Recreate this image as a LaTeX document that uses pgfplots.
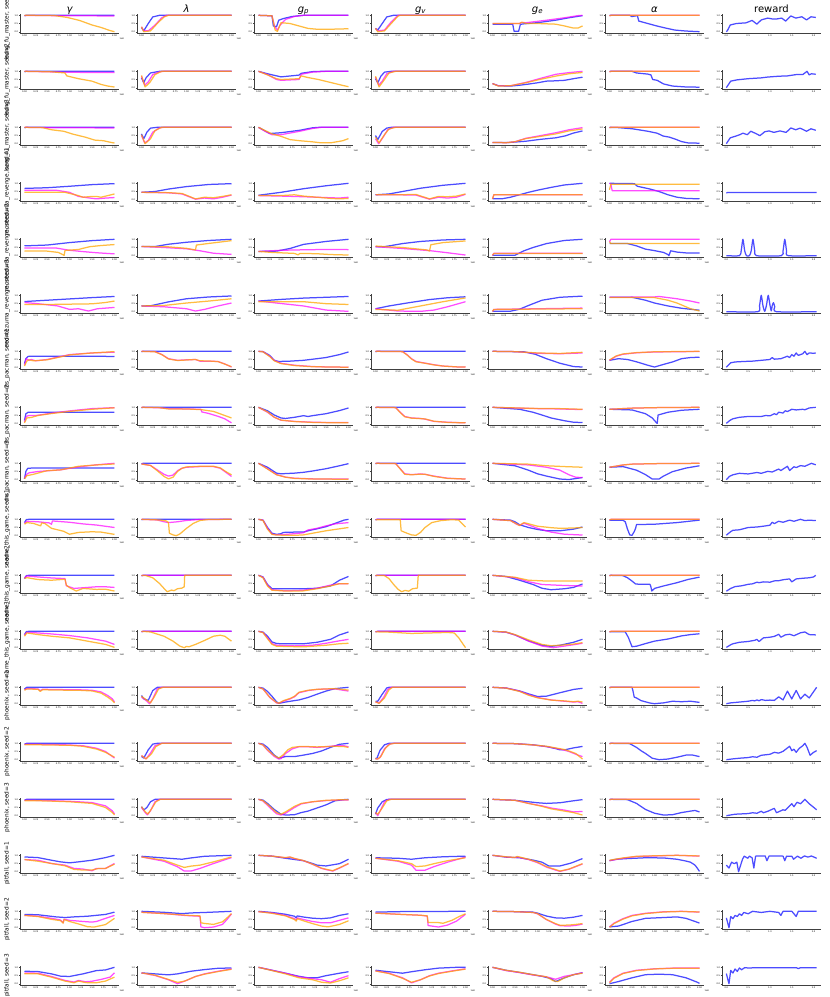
\documentclass[border=0pt]{standalone}
\usepackage{fontspec}
\setmainfont{DejaVu Sans}
\usepackage{pgfplots}
\pgfplotsset{compat=1.18}
\usepgfplotslibrary{groupplots}
\definecolor{cB}{RGB}{0,0,255}
\definecolor{cM}{RGB}{255,0,255}
\definecolor{cO}{RGB}{255,165,0}
\newcommand\BL[1]{\addplot[cB,opacity=0.7] coordinates {#1};}
\newcommand\ML[1]{\addplot[cM,opacity=0.7] coordinates {#1};}
\newcommand\OL[1]{\addplot[cO,opacity=0.75] coordinates {#1};}
\newcommand\RL[1]{\addplot[cB,opacity=0.7] coordinates {#1};}
\newcommand\RS[1]{\addplot[cB,opacity=0.7,smooth,tension=0.4] coordinates {#1};}
\pgfplotsset{
  every axis title/.style={at={(0.5,1)}, anchor=base, yshift=2pt, inner sep=0pt, font=\fontsize{10}{11}\selectfont},
  base/.style={scale only axis, width=99pt, height=19pt, ymin=-0.08, ymax=1.08,
    axis x line*=bottom, axis y line*=left,
    axis line style={black!75, line width=0.3pt},
    tick style={black!75, line width=0.3pt}, major tick length=1.2pt, tick align=outside,
    ticklabel style={font=\fontsize{2.2}{2.5}\selectfont, inner sep=0.6pt},
    /pgf/number format/assume math mode=true,
    ytick={0,0.5,1}, yticklabel style={/pgf/number format/.cd, fixed, fixed zerofill, precision=1},
    every axis plot/.append style={line width=1.25pt, line join=round},
    ylabel style={font=\fontsize{5.8}{6}\selectfont, at={(axis description cs:-0.13,0.5)}, anchor=center},
  },
  H/.style={base, xmin=-0.1, xmax=2.1, xtick={0,0.25,0.5,0.75,1,1.25,1.5,1.75,2},
    xticklabel style={/pgf/number format/.cd, fixed, fixed zerofill, precision=2},
    after end axis/.code={\node[font=\fontsize{2.2}{2.5}\selectfont, anchor=north west, inner sep=0pt] at ([xshift=0.5pt,yshift=-4.5pt]rel axis cs:1,0) {1e8};}},
  R/.style={base, xmin=-0.1, xmax=2.17, xtick={0,0.5,1,1.5,2},
    xticklabel style={/pgf/number format/.cd, fixed, fixed zerofill, precision=1}},
}
\begin{document}
\begin{tikzpicture}
\begin{groupplot}[group style={group size=7 by 18, horizontal sep=18pt, vertical sep=37pt, group name=G}]
% ===== Row 1
\nextgroupplot[H,title={\itshape γ},ylabel={kung\_fu\_master, seed=1}]
\BL{(0,0.97)(0.04,1)(2,1)}
\ML{(0,0.99)(1,0.975)(2,0.96)}
\OL{(0,1)(0.65,0.99)(0.95,0.87)(1.22,0.69)(1.5,0.41)(1.7,0.26)(1.9,0.07)(2,0)}
\nextgroupplot[H,title={\itshape λ}]
\BL{(0,0.25)(0.05,0.05)(0.15,0.5)(0.25,0.9)(0.4,1)(2,1)}
\ML{(0,0.3)(0.05,0.05)(0.15,0.05)(0.3,0.4)(0.45,0.85)(0.55,1)(2,1)}
\OL{(0,0.3)(0.05,0)(0.2,0.05)(0.35,0.5)(0.5,0.9)(0.6,1)(2,1)}
\nextgroupplot[H,title={\itshape g\textsubscript{p}}]
\BL{(0,1)(0.3,0.97)(0.33,0.35)(0.4,0.3)(0.45,0.7)(0.55,0.8)(0.75,0.93)(1,1)(2,1)}
\ML{(0,1)(0.3,0.97)(0.36,0.3)(0.42,0.1)(0.48,0.4)(0.6,0.75)(0.8,0.93)(1,1)(2,1)}
\OL{(0,1)(0.3,0.97)(0.37,0.1)(0.42,0.02)(0.5,0.55)(0.7,0.5)(0.9,0.35)(1.1,0.2)(1.3,0.15)(1.6,0.15)(2,0.18)}
\nextgroupplot[H,title={\itshape g\textsubscript{v}}]
\BL{(0,0.2)(0.05,0.1)(0.15,0.5)(0.25,0.9)(0.4,1)(2,1)}
\ML{(0,0.2)(0.05,0.05)(0.2,0.1)(0.35,0.6)(0.5,1)(2,1)}
\OL{(0,0.2)(0.05,0)(0.2,0.05)(0.35,0.5)(0.5,0.95)(0.55,1)(2,1)}
\nextgroupplot[H,title={\itshape g\textsubscript{e}}]
\BL{(0,0.45)(0.45,0.45)(0.48,0.02)(0.58,0.02)(0.62,0.45)(0.7,0.48)(1,0.55)(1.4,0.7)(1.7,0.85)(2,0.98)}
\ML{(0,0.5)(0.6,0.5)(0.65,0.56)(0.75,0.55)(1.2,0.7)(1.6,0.85)(1.9,0.98)(2,1)}
\OL{(0,0.5)(0.6,0.5)(0.65,0.58)(0.75,0.5)(1,0.5)(1.4,0.46)(1.6,0.35)(1.8,0.22)(1.9,0.22)(2,0.35)}
\nextgroupplot[H,title={\itshape α}]
\BL{(0,1)(0.45,1)(0.5,0.92)(0.55,0.95)(0.62,0.98)(0.65,0.65)(0.85,0.5)(1.05,0.35)(1.25,0.22)(1.45,0.1)(1.7,0.04)(2,0)}
\ML{(0,0.97)(0.04,1)(2,1)}
\OL{(0,0.97)(0.04,1)(2,1)}
\nextgroupplot[R,title={reward}]
\RL{(0,0)(0.02,0.05)(0.09,0.41)(0.23,0.5)(0.45,0.54)(0.59,0.69)(0.7,0.46)(0.8,0.72)(0.95,0.83)(1.05,0.78)(1.16,0.78)(1.27,0.83)(1.36,0.65)(1.48,0.96)(1.59,0.83)(1.73,0.91)(1.84,0.72)(1.94,0.91)(2.05,0.87)}
% ===== Row 2
\nextgroupplot[H,ylabel={kung\_fu\_master, seed=2}]
\BL{(0,0.97)(0.04,1)(2,1)}
\ML{(0,1)(0.5,0.97)(1,0.94)(2,0.92)}
\OL{(0,1)(0.6,0.97)(0.9,0.9)(0.94,0.72)(1,0.68)(1.2,0.55)(1.5,0.4)(1.7,0.2)(1.85,0.1)(2,0.04)}
\nextgroupplot[H]
\BL{(0,0.6)(0.05,0.3)(0.1,0.6)(0.2,0.9)(0.4,1)(2,1)}
\ML{(0,0.7)(0.07,0.15)(0.15,0.35)(0.25,0.8)(0.4,0.97)(0.5,1)(2,1)}
\OL{(0,0.75)(0.08,0.05)(0.18,0.3)(0.3,0.8)(0.45,1)(2,1)}
\nextgroupplot[H]
\BL{(0,1)(0.2,0.85)(0.5,0.66)(0.9,0.77)(0.95,0.88)(1.2,0.98)(1.4,1)(2,1)}
\ML{(0,1)(0.2,0.8)(0.4,0.5)(0.5,0.45)(0.9,0.5)(0.95,0.82)(1.2,0.95)(1.5,1)(2,1)}
\OL{(0,1)(0.2,0.78)(0.4,0.55)(0.5,0.5)(0.9,0.55)(0.95,0.72)(1.1,0.62)(1.33,0.5)(1.6,0.32)(1.87,0.14)(2,0.06)}
\nextgroupplot[H]
\BL{(0,0.55)(0.05,0.3)(0.12,0.7)(0.2,0.95)(0.35,1)(2,1)}
\ML{(0,0.65)(0.07,0.15)(0.15,0.4)(0.25,0.85)(0.4,1)(2,1)}
\OL{(0,0.7)(0.08,0.05)(0.2,0.5)(0.3,0.9)(0.45,1)(2,1)}
\nextgroupplot[H]
\BL{(0,0.25)(0.13,0.12)(0.4,0.1)(0.6,0.15)(0.8,0.22)(1,0.3)(1.2,0.4)(1.4,0.42)(1.6,0.45)(1.8,0.55)(2,0.64)}
\ML{(0,0.25)(0.13,0.12)(0.4,0.12)(0.74,0.32)(1.08,0.58)(1.41,0.82)(1.7,0.92)(2,1)}
\OL{(0,0.25)(0.13,0.1)(0.4,0.12)(0.74,0.3)(1.08,0.52)(1.41,0.71)(1.7,0.85)(2,0.93)}
\nextgroupplot[H]
\BL{(0,1)(0.5,1)(0.6,0.9)(0.85,0.83)(0.92,0.78)(0.96,0.5)(1.06,0.45)(1.2,0.23)(1.4,0.1)(1.67,0.05)(2,0.03)}
\ML{(0,0.97)(0.04,1)(2,1)}
\OL{(0,0.97)(0.04,1)(2,1)}
\nextgroupplot[R]
\RL{(0,0)(0.1,0.4)(0.25,0.48)(0.5,0.55)(0.8,0.6)(0.95,0.65)(1.2,0.7)(1.4,0.72)(1.6,0.8)(1.75,0.8)(1.85,1)(1.9,0.78)(1.95,0.85)(2.05,0.82)}
% ===== Row 3
\nextgroupplot[H,ylabel={kung\_fu\_master, seed=3}]
\BL{(0,0.97)(0.04,1)(2,1)}
\ML{(0,1)(0.5,0.98)(2,0.96)}
\OL{(0,1)(0.4,0.98)(0.6,0.85)(0.87,0.76)(1.08,0.58)(1.35,0.4)(1.56,0.22)(1.76,0.18)(1.9,0.09)(2,0.04)}
\nextgroupplot[H]
\BL{(0,0.6)(0.05,0.3)(0.12,0.7)(0.2,0.95)(0.35,1)(2,1)}
\ML{(0,0.5)(0.07,0.05)(0.15,0.2)(0.25,0.7)(0.4,0.97)(0.5,1)(2,1)}
\OL{(0,0.55)(0.08,0)(0.2,0.3)(0.3,0.8)(0.45,1)(2,1)}
\nextgroupplot[H]
\BL{(0,1)(0.1,0.85)(0.25,0.62)(0.5,0.67)(0.92,0.82)(1.2,0.97)(1.35,1)(2,1)}
\ML{(0,1)(0.15,0.75)(0.3,0.55)(0.5,0.55)(0.9,0.75)(1.2,0.93)(1.4,1)(2,1)}
\OL{(0,1)(0.15,0.8)(0.3,0.6)(0.5,0.45)(0.7,0.25)(0.92,0.18)(1.18,0.12)(1.4,0.05)(1.6,0.05)(1.87,0.18)(2,0.31)}
\nextgroupplot[H]
\BL{(0,0.5)(0.05,0.25)(0.15,0.75)(0.25,0.95)(0.35,1)(2,1)}
\ML{(0,0.3)(0.07,0)(0.17,0.4)(0.27,0.85)(0.4,1)(2,1)}
\OL{(0,0.4)(0.08,0.05)(0.2,0.55)(0.3,0.9)(0.45,1)(2,1)}
\nextgroupplot[H]
\BL{(0,0.08)(0.4,0.08)(0.74,0.15)(1.08,0.27)(1.41,0.36)(1.62,0.48)(1.8,0.65)(2,0.78)}
\ML{(0,0.08)(0.3,0.06)(0.5,0.12)(0.74,0.33)(1.08,0.5)(1.41,0.67)(1.7,0.85)(2,0.98)}
\OL{(0,0.08)(0.3,0.06)(0.5,0.12)(0.74,0.31)(1.08,0.45)(1.41,0.6)(1.7,0.78)(2,0.9)}
\nextgroupplot[H]
\BL{(0,1)(0.2,0.98)(0.51,0.91)(0.85,0.76)(1.06,0.64)(1.19,0.47)(1.33,0.4)(1.47,0.27)(1.6,0.13)(1.74,0.05)(2,0.03)}
\ML{(0,0.97)(0.04,1)(2,1)}
\OL{(0,0.97)(0.04,1)(2,1)}
\nextgroupplot[R]
\RL{(0,0)(0.09,0.36)(0.2,0.45)(0.31,0.55)(0.38,0.64)(0.48,0.55)(0.56,0.76)(0.66,0.64)(0.77,0.49)(0.88,0.73)(0.98,0.78)(1.09,0.69)(1.23,0.78)(1.37,0.69)(1.48,0.96)(1.59,0.85)(1.69,0.95)(1.84,0.76)(1.94,0.91)(2.05,0.82)}
% ===== Row 4
\nextgroupplot[H,ylabel={montezuma\_revenge, seed=1}]
\BL{(0,0.69)(0.5,0.73)(1,0.82)(1.5,0.92)(2,0.98)}
\ML{(0,0.58)(0.7,0.58)(1,0.45)(1.2,0.2)(1.4,0.12)(1.6,0.05)(1.8,0.1)(2,0.13)}
\OL{(0,0.45)(0.9,0.45)(1.2,0.25)(1.3,0.15)(1.5,0.2)(1.6,0.2)(1.7,0.15)(1.85,0.25)(2,0.35)}
\nextgroupplot[H]
\BL{(0,0.45)(0.3,0.5)(0.6,0.65)(1,0.8)(1.5,0.93)(2,0.98)}
\ML{(0,0.45)(0.6,0.42)(0.9,0.35)(1.2,0.03)(1.4,0.1)(1.6,0.05)(1.8,0.15)(2,0.28)}
\OL{(0,0.45)(0.6,0.43)(0.9,0.38)(1.2,0.05)(1.4,0.15)(1.6,0.12)(1.8,0.2)(2,0.3)}
\nextgroupplot[H]
\BL{(0,0.27)(0.5,0.45)(1,0.67)(1.5,0.85)(2,1)}
\ML{(0,0.25)(0.5,0.22)(1,0.18)(1.5,0.13)(1.8,0.1)(2,0.15)}
\OL{(0,0.25)(0.5,0.25)(0.8,0.3)(1,0.22)(1.3,0.15)(1.6,0.08)(1.8,0.05)(2,0.08)}
\nextgroupplot[H]
\BL{(0,0.3)(0.3,0.35)(0.6,0.5)(1,0.7)(1.5,0.88)(2,1)}
\ML{(0,0.3)(0.5,0.3)(0.9,0.28)(1.2,0.03)(1.4,0.15)(1.6,0.1)(1.8,0.15)(2,0.33)}
\OL{(0,0.3)(0.5,0.3)(0.9,0.32)(1.2,0.05)(1.4,0.2)(1.6,0.18)(1.8,0.22)(2,0.35)}
\nextgroupplot[H]
\BL{(0,0.05)(0.2,0.05)(0.4,0.15)(0.6,0.3)(0.8,0.45)(1,0.58)(1.3,0.75)(1.6,0.9)(2,1)}
\ML{(0,0.05)(0.03,0.3)(2,0.3)}
\OL{(0,0.05)(0.03,0.3)(2,0.3)}
\nextgroupplot[H]
\BL{(0,1)(0.55,0.98)(0.62,0.82)(0.9,0.65)(1.1,0.5)(1.3,0.3)(1.5,0.15)(1.7,0.08)(2,0.05)}
\ML{(0,1)(0.03,0.95)(0.06,0.55)(2,0.55)}
\OL{(0,0.6)(0.03,0.95)(2,0.95)}
\nextgroupplot[R]
\RL{(0,0.41)(0.03,0.44)(2.07,0.44)}
% ===== Row 5
\nextgroupplot[H,ylabel={montezuma\_revenge, seed=2}]
\BL{(0,0.6)(0.5,0.65)(1,0.8)(1.5,0.92)(2,1)}
\ML{(0,0.47)(0.7,0.47)(1,0.33)(1.3,0.25)(1.6,0.18)(2,0.11)}
\OL{(0,0.29)(0.5,0.28)(0.75,0.2)(0.86,0.05)(0.88,0.02)(0.9,0.32)(1.2,0.38)(1.3,0.45)(1.45,0.55)(1.7,0.62)(2,0.68)}
\nextgroupplot[H]
\BL{(0,0.56)(0.3,0.56)(0.6,0.7)(1,0.82)(1.5,0.93)(2,1)}
\ML{(0,0.56)(0.5,0.5)(1,0.42)(1.3,0.3)(1.6,0.15)(2,0.08)}
\OL{(0,0.56)(0.6,0.54)(1,0.45)(1.2,0.35)(1.22,0.65)(1.5,0.75)(1.8,0.85)(2,0.92)}
\nextgroupplot[H]
\BL{(0,0.26)(0.4,0.28)(0.7,0.44)(1,0.69)(1.5,0.87)(2,1)}
\ML{(0,0.26)(0.5,0.33)(1,0.36)(1.5,0.38)(2,0.37)}
\OL{(0,0.26)(0.3,0.2)(0.8,0.14)(0.88,0.05)(0.92,0.14)(1.3,0.12)(1.6,0.07)(2,0.04)}
\nextgroupplot[H]
\BL{(0,0.55)(0.2,0.55)(0.6,0.74)(1,0.87)(1.5,0.96)(2,1)}
\ML{(0,0.55)(0.6,0.44)(1.2,0.31)(1.6,0.18)(2,0.04)}
\OL{(0,0.59)(0.6,0.5)(1.15,0.35)(1.2,0.28)(1.23,0.67)(1.5,0.8)(2,0.9)}
\nextgroupplot[H]
\BL{(0,0.02)(0.5,0.03)(0.7,0.3)(0.9,0.5)(1.2,0.74)(1.6,0.93)(2,1)}
\ML{(0,0.02)(0.03,0.15)(2,0.15)}
\OL{(0,0.02)(0.03,0.13)(2,0.13)}
\nextgroupplot[H]
\BL{(0,0.74)(0.4,0.74)(0.6,0.6)(0.8,0.4)(1,0.31)(1.2,0.2)(1.3,0.07)(1.32,0)(1.36,0.3)(1.5,0.22)(1.7,0.17)(2,0.17)}
\ML{(0,0.85)(0.03,1)(2,1)}
\OL{(0,0.85)(0.03,0.74)(2,0.74)}
\nextgroupplot[R]
\RS{(0,0)(0.3,0)(0.34,0.3)(0.38,1)(0.42,0.3)(0.46,0)(0.53,0)(0.57,0.3)(0.61,1)(0.65,0.3)(0.69,0)(1.26,0)(1.3,0.3)(1.34,1)(1.38,0.3)(1.42,0)(2.07,0)}
% ===== Row 6
\nextgroupplot[H,ylabel={montezuma\_revenge, seed=3}]
\BL{(0,0.62)(0.5,0.7)(1,0.78)(1.5,0.86)(2,0.93)}
\ML{(0,0.56)(0.26,0.5)(0.74,0.35)(1,0.14)(1.2,0.18)(1.42,0.04)(1.62,0.18)(2,0.26)}
\OL{(0,0.44)(0.5,0.44)(1,0.46)(1.5,0.48)(1.8,0.56)(2,0.65)}
\nextgroupplot[H]
\BL{(0,0.35)(0.2,0.36)(0.6,0.6)(1,0.79)(1.5,0.9)(2,0.96)}
\ML{(0,0.35)(0.5,0.3)(1,0.18)(1.2,0.04)(1.4,0.14)(1.7,0.35)(2,0.53)}
\OL{(0,0.35)(0.5,0.38)(1,0.53)(1.5,0.65)(2,0.79)}
\nextgroupplot[H]
\BL{(0,0.65)(0.5,0.75)(1,0.83)(1.5,0.88)(2,0.93)}
\ML{(0,0.65)(0.5,0.5)(1,0.35)(1.5,0.1)(2,0.02)}
\OL{(0,0.61)(1,0.61)(1.5,0.49)(2,0.44)}
\nextgroupplot[H]
\BL{(0,0.18)(0.3,0.35)(0.7,0.53)(1.2,0.74)(1.6,0.85)(2,0.91)}
\ML{(0,0.18)(0.5,0.04)(1,0.02)(1.3,0.1)(1.6,0.3)(2,0.61)}
\OL{(0,0.14)(0.5,0.09)(1,0.35)(1.5,0.61)(2,0.84)}
\nextgroupplot[H]
\BL{(0,0.02)(0.4,0.03)(0.6,0.15)(0.8,0.38)(1.1,0.7)(1.5,0.88)(2,0.95)}
\ML{(0,0.02)(0.03,0.14)(1,0.18)(2,0.22)}
\OL{(0,0.02)(0.03,0.14)(1,0.16)(2,0.18)}
\nextgroupplot[H]
\BL{(0,0.88)(0.5,0.88)(0.8,0.7)(1,0.53)(1.3,0.35)(1.6,0.21)(2,0.09)}
\ML{(0,0.88)(1,0.9)(1.1,0.93)(1.5,0.79)(1.8,0.65)(2,0.53)}
\OL{(0,0.86)(1,0.86)(1.3,0.7)(1.5,0.53)(1.8,0.18)(2,0.04)}
\nextgroupplot[R]
\RS{(0,0)(0.72,0)(0.76,0.35)(0.8,1)(0.84,0.35)(0.88,0.02)(0.92,0.4)(0.96,1)(1,0.4)(1.03,0.05)(1.05,0.35)(1.08,0.55)(1.11,0.3)(1.15,0)(2.07,0)}
% ===== Row 7
\nextgroupplot[H,ylabel={ms\_pacman, seed=1}]
\BL{(0,0.25)(0.03,0.55)(0.08,0.69)(0.2,0.7)(2,0.69)}
\ML{(0,0.15)(0.04,0.55)(0.1,0.45)(0.15,0.5)(0.25,0.42)(0.5,0.5)(1,0.8)(1.5,0.9)(2,0.95)}
\OL{(0,0.1)(0.05,0.4)(0.1,0.48)(0.2,0.42)(0.5,0.48)(1,0.78)(1.5,0.9)(2,0.98)}
\nextgroupplot[H]
\BL{(0,0.97)(0.04,1)(2,1)}
\ML{(0,1)(0.3,0.98)(0.45,0.81)(0.6,0.55)(0.8,0.45)(1,0.48)(1.2,0.5)(1.3,0.4)(1.5,0.4)(1.7,0.38)(1.85,0.23)(2,0.04)}
\OL{(0,1)(0.3,0.97)(0.45,0.8)(0.6,0.53)(0.8,0.44)(1,0.47)(1.2,0.5)(1.3,0.42)(1.5,0.41)(1.7,0.37)(1.85,0.22)(2,0.06)}
\nextgroupplot[H]
\BL{(0,1)(0.1,0.98)(0.25,0.75)(0.35,0.45)(0.45,0.38)(0.7,0.4)(1,0.45)(1.3,0.55)(1.5,0.62)(1.8,0.8)(2,0.96)}
\ML{(0,1)(0.1,0.98)(0.25,0.7)(0.35,0.45)(0.5,0.27)(0.8,0.15)(1.2,0.07)(1.6,0.04)(2,0.03)}
\OL{(0,1)(0.1,0.97)(0.25,0.68)(0.35,0.42)(0.5,0.25)(0.8,0.13)(1.2,0.06)(1.6,0.04)(2,0.03)}
\nextgroupplot[H]
\BL{(0,0.97)(0.04,1)(2,1)}
\ML{(0,1)(0.6,0.98)(0.7,0.8)(0.8,0.55)(0.9,0.38)(1.1,0.28)(1.3,0.18)(1.5,0.1)(1.8,0.05)(2,0.04)}
\OL{(0,1)(0.6,0.98)(0.7,0.78)(0.8,0.53)(0.9,0.36)(1.1,0.27)(1.3,0.17)(1.5,0.1)(1.8,0.05)(2,0.04)}
\nextgroupplot[H]
\BL{(0,1)(0.7,0.97)(0.95,0.82)(1.2,0.55)(1.5,0.27)(1.8,0.07)(2,0.04)}
\ML{(0,1)(0.5,0.98)(1,0.88)(1.5,0.85)(2,0.9)}
\OL{(0,1)(0.5,0.98)(1,0.9)(1.5,0.87)(2,0.94)}
\nextgroupplot[H]
\BL{(0,0.45)(0.2,0.55)(0.4,0.5)(0.6,0.36)(0.85,0.15)(1,0.04)(1.2,0.2)(1.4,0.35)(1.6,0.55)(1.8,0.62)(2,0.64)}
\ML{(0,0.45)(0.15,0.7)(0.3,0.82)(0.6,0.91)(1,0.96)(2,0.99)}
\OL{(0,0.47)(0.15,0.72)(0.3,0.84)(0.6,0.92)(1,0.97)(2,1)}
\nextgroupplot[R]
\RL{(0,0.03)(0.1,0.3)(0.2,0.35)(0.4,0.38)(0.6,0.4)(0.8,0.45)(1,0.5)(1.05,0.62)(1.1,0.52)(1.25,0.55)(1.4,0.7)(1.45,0.62)(1.5,0.8)(1.55,0.7)(1.6,0.9)(1.65,0.75)(1.75,0.85)(1.8,1)(1.85,0.8)(1.9,0.9)(2,0.88)(2.05,0.9)}
% ===== Row 8
\nextgroupplot[H,ylabel={ms\_pacman, seed=2}]
\BL{(0,0.2)(0.03,0.6)(0.08,0.7)(2,0.7)}
\ML{(0,0.1)(0.04,0.45)(0.1,0.5)(0.25,0.5)(0.4,0.56)(0.7,0.68)(1,0.78)(1.5,0.92)(2,0.98)}
\OL{(0,0.05)(0.05,0.35)(0.15,0.38)(0.3,0.5)(0.6,0.62)(1,0.75)(1.5,0.88)(2,0.97)}
\nextgroupplot[H]
\BL{(0,0.97)(0.04,1)(2,1)}
\ML{(0,1)(0.4,0.97)(0.6,0.92)(1,0.9)(1.32,0.88)(1.34,0.72)(1.5,0.62)(1.7,0.45)(1.85,0.3)(2,0.05)}
\OL{(0,1)(0.4,0.98)(0.6,0.9)(1,0.9)(1.32,0.86)(1.35,0.85)(1.6,0.75)(1.8,0.55)(2,0.35)}
\nextgroupplot[H]
\BL{(0,1)(0.2,0.79)(0.35,0.53)(0.5,0.35)(0.6,0.32)(0.8,0.39)(1,0.49)(1.1,0.44)(1.2,0.49)(1.5,0.61)(1.8,0.8)(2,0.96)}
\ML{(0,1)(0.2,0.7)(0.35,0.39)(0.5,0.21)(0.8,0.14)(1.2,0.09)(1.6,0.07)(2,0.07)}
\OL{(0,1)(0.2,0.72)(0.35,0.4)(0.5,0.22)(0.8,0.13)(1.2,0.08)(1.6,0.06)(2,0.06)}
\nextgroupplot[H]
\BL{(0,0.97)(0.04,1)(2,1)}
\ML{(0,1)(0.45,0.98)(0.55,0.7)(0.65,0.44)(0.8,0.35)(1,0.32)(1.1,0.28)(1.3,0.14)(1.6,0.09)(2,0.05)}
\OL{(0,1)(0.45,0.98)(0.55,0.68)(0.65,0.42)(0.8,0.34)(1,0.31)(1.1,0.29)(1.3,0.15)(1.6,0.08)(2,0.05)}
\nextgroupplot[H]
\BL{(0,1)(0.6,0.88)(0.9,0.7)(1.1,0.53)(1.3,0.35)(1.6,0.18)(1.8,0.09)(2,0.07)}
\ML{(0,1)(1,0.92)(1.5,0.9)(2,0.86)}
\OL{(0,1)(1,0.93)(1.5,0.92)(2,0.88)}
\nextgroupplot[H]
\BL{(0,0.88)(0.5,0.84)(0.8,0.61)(0.95,0.35)(1.03,0.1)(1.06,0.02)(1.08,0.53)(1.3,0.7)(1.6,0.82)(2,0.88)}
\ML{(0,0.88)(0.5,0.95)(1,0.98)(2,1)}
\OL{(0,0.88)(0.5,0.95)(1,0.98)(2,1)}
\nextgroupplot[R]
\RL{(0,0.02)(0.08,0.2)(0.15,0.3)(0.3,0.39)(0.5,0.44)(0.8,0.44)(0.9,0.5)(1,0.48)(1.1,0.61)(1.15,0.55)(1.2,0.7)(1.3,0.65)(1.35,0.79)(1.4,0.74)(1.5,0.88)(1.6,0.84)(1.75,0.88)(1.8,0.85)(1.9,0.96)(2.05,1)}
% ===== Row 9
\nextgroupplot[H,ylabel={ms\_pacman, seed=3}]
\BL{(0,0.05)(0.03,0.5)(0.07,0.69)(0.2,0.72)(2,0.72)}
\ML{(0,0.1)(0.05,0.33)(0.1,0.42)(0.3,0.5)(0.8,0.6)(1.2,0.78)(1.6,0.91)(2,1)}
\OL{(0,0.05)(0.05,0.24)(0.2,0.33)(0.5,0.55)(0.8,0.6)(1.2,0.82)(1.6,0.9)(2,0.96)}
\nextgroupplot[H]
\BL{(0,0.97)(0.04,1)(2,1)}
\ML{(0,0.96)(0.2,0.87)(0.35,0.6)(0.5,0.33)(0.6,0.22)(0.7,0.28)(0.8,0.55)(0.9,0.7)(1,0.76)(1.3,0.8)(1.6,0.8)(1.75,0.7)(1.9,0.4)(2,0.2)}
\OL{(0,0.96)(0.2,0.87)(0.35,0.55)(0.5,0.2)(0.6,0.05)(0.7,0.15)(0.8,0.5)(0.9,0.7)(1,0.78)(1.3,0.82)(1.6,0.82)(1.75,0.72)(1.9,0.45)(2,0.3)}
\nextgroupplot[H]
\BL{(0,1)(0.2,0.76)(0.4,0.4)(0.5,0.36)(0.8,0.4)(1,0.45)(1.2,0.53)(1.5,0.67)(1.8,0.85)(2,0.98)}
\ML{(0,1)(0.2,0.67)(0.4,0.31)(0.6,0.16)(0.8,0.09)(1.2,0.05)(2,0.04)}
\OL{(0,1)(0.2,0.65)(0.4,0.3)(0.6,0.15)(0.8,0.08)(1.2,0.04)(2,0.03)}
\nextgroupplot[H]
\BL{(0,0.97)(0.04,1)(2,1)}
\ML{(0,1)(0.45,0.98)(0.55,0.67)(0.65,0.36)(0.8,0.31)(1,0.35)(1.1,0.33)(1.3,0.22)(1.6,0.09)(2,0.04)}
\OL{(0,1)(0.45,0.98)(0.55,0.65)(0.65,0.33)(0.8,0.3)(1,0.34)(1.1,0.33)(1.3,0.2)(1.6,0.08)(2,0.04)}
\nextgroupplot[H]
\BL{(0,1)(0.5,0.85)(0.8,0.58)(1,0.36)(1.2,0.22)(1.5,0.04)(1.7,0.01)(2,0.13)}
\ML{(0,1)(0.8,0.9)(1.2,0.76)(1.5,0.58)(1.7,0.3)(1.85,0.15)(2,0.13)}
\OL{(0,1)(0.8,0.95)(1.2,0.85)(1.6,0.8)(2,0.76)}
\nextgroupplot[H]
\BL{(0,0.76)(0.3,0.8)(0.6,0.58)(0.8,0.31)(0.95,0.04)(1.1,0.04)(1.2,0.22)(1.4,0.49)(1.7,0.71)(2,0.85)}
\ML{(0,0.76)(0.3,0.9)(0.5,0.95)(1,0.98)(2,1)}
\OL{(0,0.76)(0.3,0.9)(0.5,0.95)(1,0.98)(2,1)}
\nextgroupplot[R]
\RL{(0,0)(0.07,0.2)(0.15,0.3)(0.3,0.39)(0.5,0.35)(0.7,0.44)(0.8,0.39)(0.95,0.51)(1.05,0.47)(1.2,0.65)(1.25,0.56)(1.4,0.82)(1.45,0.56)(1.55,0.79)(1.6,0.74)(1.7,0.86)(1.8,0.82)(1.95,1)(2.05,0.91)}
% ===== Row 10
\nextgroupplot[H,ylabel={name\_this\_game, seed=1}]
\BL{(0,0.8)(0.04,0.98)(0.1,1)(2,1)}
\ML{(0,0.75)(0.05,0.88)(0.3,0.85)(0.55,0.78)(0.6,0.7)(0.62,0.9)(1,0.82)(1.3,0.72)(1.6,0.65)(2,0.5)}
\OL{(0,0.7)(0.05,0.8)(0.2,0.75)(0.36,0.6)(0.38,0.78)(0.45,0.75)(0.6,0.45)(0.87,0.27)(1,0.09)(1.2,0.2)(1.5,0.24)(1.7,0.22)(2,0.08)}
\nextgroupplot[H]
\BL{(0,0.97)(0.04,1)(2,1)}
\ML{(0,1)(0.35,0.96)(0.5,0.85)(0.6,0.8)(0.8,0.85)(1,0.93)(1.3,0.99)(2,1)}
\OL{(0,1)(0.4,0.96)(0.55,0.9)(0.6,0.8)(0.62,0.15)(0.7,0.05)(0.77,0)(0.85,0.1)(1,0.45)(1.15,0.75)(1.3,0.93)(1.5,0.99)(2,1)}
\nextgroupplot[H]
\BL{(0,1)(0.1,0.95)(0.2,0.5)(0.3,0.15)(0.4,0.08)(0.5,0.12)(0.55,0.2)(0.8,0.22)(1,0.22)(1.1,0.3)(1.3,0.42)(1.5,0.55)(1.7,0.75)(1.9,0.95)(2,1)}
\ML{(0,1)(0.1,0.95)(0.2,0.45)(0.3,0.1)(0.4,0.05)(0.6,0.08)(0.8,0.12)(1,0.18)(1.1,0.35)(1.3,0.45)(1.5,0.6)(1.7,0.72)(2,0.8)}
\OL{(0,1)(0.1,0.93)(0.2,0.4)(0.3,0.08)(0.4,0.04)(0.8,0.02)(1,0.05)(1.2,0.15)(1.5,0.3)(1.8,0.42)(2,0.5)}
\nextgroupplot[H]
\BL{(0,0.97)(0.04,1)(2,1)}
\ML{(0,0.97)(0.04,1)(2,1)}
\OL{(0,0.98)(0.55,0.98)(0.57,0.3)(0.7,0.15)(0.8,0.05)(0.9,0.02)(1,0.2)(1.1,0.5)(1.25,0.8)(1.45,0.92)(1.7,0.98)(1.85,0.95)(2,0.53)}
\nextgroupplot[H]
\BL{(0,1)(0.4,0.95)(0.5,0.85)(0.6,0.67)(0.8,0.5)(1,0.38)(1.2,0.3)(1.5,0.3)(1.8,0.4)(2,0.53)}
\ML{(0,1)(0.4,0.92)(0.55,0.68)(0.6,0.64)(0.7,0.76)(1,0.45)(1.3,0.22)(1.6,0.09)(2,0.04)}
\OL{(0,1)(0.4,0.92)(0.55,0.7)(0.6,0.62)(0.7,0.8)(1,0.58)(1.3,0.49)(1.5,0.45)(1.8,0.47)(2,0.5)}
\nextgroupplot[H]
\BL{(0,0.95)(0.3,0.94)(0.35,0.85)(0.4,0.4)(0.45,0.05)(0.5,0.02)(0.55,0.25)(0.58,0.45)(0.6,0.68)(1,0.7)(1.5,0.8)(2,0.95)}
\ML{(0,0.97)(0.04,1)(2,1)}
\OL{(0,0.97)(0.04,1)(2,1)}
\nextgroupplot[R]
\RL{(0,0.03)(0.1,0.25)(0.15,0.33)(0.3,0.36)(0.5,0.5)(0.7,0.53)(0.85,0.58)(1,0.64)(1.05,0.82)(1.1,0.74)(1.2,0.88)(1.3,0.82)(1.45,0.95)(1.55,0.88)(1.7,1)(1.8,0.92)(1.9,0.95)(2.05,0.92)}
% ===== Row 11
\nextgroupplot[H,ylabel={name\_this\_game, seed=2}]
\BL{(0,0.8)(0.04,0.98)(0.1,1)(2,1)}
\ML{(0,0.84)(0.05,0.96)(0.3,0.9)(0.6,0.84)(0.9,0.8)(0.93,0.36)(1.1,0.2)(1.3,0.24)(1.6,0.3)(1.8,0.3)(2,0.26)}
\OL{(0,0.8)(0.05,0.86)(0.3,0.74)(0.6,0.7)(0.9,0.76)(0.93,0.4)(1,0.25)(1.15,0.04)(1.3,0.2)(1.6,0.14)(1.8,0.15)(2,0.04)}
\nextgroupplot[H]
\BL{(0,0.97)(0.04,1)(2,1)}
\ML{(0,0.97)(0.04,1)(2,1)}
\OL{(0,1)(0.1,0.98)(0.25,0.85)(0.4,0.5)(0.5,0.2)(0.57,0)(0.62,0.05)(0.67,0.1)(0.72,0.06)(0.8,0.18)(0.9,0.22)(0.95,0.3)(0.96,1)(2,1)}
\nextgroupplot[H]
\BL{(0,1)(0.1,0.9)(0.2,0.44)(0.3,0.18)(0.6,0.18)(1,0.18)(1.3,0.21)(1.6,0.35)(1.8,0.7)(2,0.93)}
\ML{(0,1)(0.1,0.88)(0.2,0.4)(0.3,0.12)(0.6,0.05)(1,0.09)(1.3,0.21)(1.6,0.4)(1.8,0.49)(2,0.49)}
\OL{(0,1)(0.1,0.85)(0.2,0.35)(0.3,0.09)(0.6,0.04)(1,0.05)(1.3,0.18)(1.6,0.35)(1.8,0.49)(2,0.48)}
\nextgroupplot[H]
\BL{(0,0.97)(0.04,1)(2,1)}
\ML{(0,0.97)(0.04,1)(2,1)}
\OL{(0,1)(0.2,0.98)(0.3,0.8)(0.4,0.45)(0.5,0.15)(0.58,0)(0.66,0.08)(0.74,0.03)(0.82,0.18)(0.93,0.22)(0.95,1)(2,1)}
\nextgroupplot[H]
\BL{(0,1)(0.3,0.93)(0.6,0.7)(0.9,0.44)(1.1,0.21)(1.3,0.12)(1.6,0.18)(1.8,0.26)(2,0.47)}
\ML{(0,1)(0.5,0.86)(0.8,0.61)(1.1,0.44)(1.5,0.39)(1.8,0.36)(2,0.35)}
\OL{(0,1)(0.5,0.88)(0.8,0.7)(1.2,0.65)(2,0.65)}
\nextgroupplot[H]
\BL{(0,1)(0.3,0.98)(0.4,0.85)(0.5,0.65)(0.58,0.47)(0.7,0.45)(0.9,0.45)(0.92,0.3)(0.94,0.04)(1,0.2)(1.2,0.35)(1.5,0.55)(1.75,0.75)(2,0.89)}
\ML{(0,0.97)(0.04,1)(2,1)}
\OL{(0,0.97)(0.04,1)(2,1)}
\nextgroupplot[R]
\RL{(0,0.03)(0.1,0.2)(0.2,0.31)(0.35,0.36)(0.5,0.45)(0.6,0.48)(0.7,0.58)(0.75,0.55)(0.85,0.6)(1,0.58)(1.1,0.66)(1.2,0.67)(1.3,0.73)(1.45,0.78)(1.5,0.6)(1.6,0.78)(1.75,0.82)(1.9,0.85)(2,0.9)(2.05,1)}
% ===== Row 12
\nextgroupplot[H,ylabel={name\_this\_game, seed=3}]
\BL{(0,0.8)(0.04,0.98)(0.1,1)(2,1)}
\ML{(0,0.76)(0.05,0.94)(0.3,0.9)(0.6,0.84)(1,0.74)(1.4,0.6)(1.8,0.4)(2,0.2)}
\OL{(0,0.7)(0.05,0.9)(0.3,0.8)(0.6,0.7)(1,0.6)(1.4,0.4)(1.8,0.2)(2,0.02)}
\nextgroupplot[H]
\BL{(0,0.97)(0.04,1)(2,1)}
\ML{(0,0.97)(0.04,1)(2,1)}
\OL{(0,1)(0.2,0.96)(0.5,0.7)(0.7,0.4)(0.85,0.1)(0.95,0)(1,0.08)(1.05,0.05)(1.2,0.2)(1.4,0.44)(1.6,0.7)(1.75,0.76)(1.85,0.7)(2,0.4)}
\nextgroupplot[H]
\BL{(0,1)(0.1,0.95)(0.2,0.7)(0.3,0.35)(0.4,0.26)(0.5,0.24)(1,0.24)(1.3,0.33)(1.6,0.51)(1.8,0.78)(2,0.96)}
\ML{(0,1)(0.1,0.93)(0.2,0.6)(0.3,0.25)(0.4,0.15)(0.8,0.11)(1.2,0.15)(1.5,0.27)(1.8,0.42)(2,0.51)}
\OL{(0,1)(0.1,0.92)(0.2,0.55)(0.3,0.2)(0.4,0.09)(1,0.05)(1.5,0.15)(1.8,0.24)(2,0.27)}
\nextgroupplot[H]
\BL{(0,0.97)(0.05,1)(2,1)}
\ML{(0,0.97)(0.05,1)(2,1)}
\OL{(0,0.97)(0.3,0.95)(0.8,0.87)(1.2,0.9)(1.6,0.93)(1.75,0.9)(1.85,0.6)(1.95,0.2)(2,0)}
\nextgroupplot[H]
\BL{(0,1)(0.3,0.95)(0.5,0.78)(0.8,0.42)(1.1,0.15)(1.3,0.08)(1.5,0.15)(1.8,0.33)(2,0.51)}
\ML{(0,1)(0.3,0.95)(0.5,0.78)(0.8,0.4)(1.1,0.1)(1.35,0)(1.6,0.1)(1.8,0.18)(2,0.27)}
\OL{(0,1)(0.3,0.96)(0.5,0.8)(0.8,0.48)(1.1,0.2)(1.3,0.12)(1.5,0.15)(1.8,0.22)(2,0.31)}
\nextgroupplot[H]
\BL{(0,0.98)(0.35,0.97)(0.42,0.62)(0.5,0.06)(0.6,0.09)(0.8,0.25)(1,0.4)(1.3,0.53)(1.6,0.72)(1.8,0.8)(2,0.85)}
\ML{(0,0.97)(0.04,1)(2,1)}
\OL{(0,0.97)(0.04,1)(2,1)}
\nextgroupplot[R]
\RL{(0,0.02)(0.1,0.18)(0.15,0.24)(0.3,0.33)(0.5,0.38)(0.65,0.45)(0.7,0.51)(0.75,0.38)(0.85,0.6)(1,0.64)(1.1,0.69)(1.2,0.82)(1.25,0.64)(1.35,0.78)(1.45,0.82)(1.55,0.73)(1.7,0.91)(1.8,0.96)(1.9,0.8)(2.05,0.78)}
% ===== Row 13
\nextgroupplot[H,ylabel={phoenix, seed=1}]
\BL{(0,0.9)(0.05,1)(2,1)}
\ML{(0,0.85)(0.05,0.92)(0.3,0.9)(0.35,0.8)(0.4,0.88)(0.8,0.86)(1.2,0.85)(1.5,0.82)(1.7,0.72)(1.85,0.5)(1.95,0.3)(2,0.1)}
\OL{(0,0.82)(0.05,0.9)(0.3,0.88)(0.35,0.75)(0.4,0.85)(0.8,0.83)(1.2,0.82)(1.5,0.78)(1.7,0.65)(1.85,0.4)(1.95,0.2)(2,0.05)}
\nextgroupplot[H]
\BL{(0,0.5)(0.05,0.3)(0.15,0.2)(0.25,0.8)(0.35,1)(2,1)}
\ML{(0,0.4)(0.1,0.2)(0.18,0)(0.25,0.3)(0.35,0.9)(0.45,1)(2,1)}
\OL{(0,0.45)(0.1,0.25)(0.2,0.05)(0.28,0.4)(0.38,0.9)(0.48,1)(2,1)}
\nextgroupplot[H]
\BL{(0,1)(0.1,0.95)(0.2,0.75)(0.3,0.45)(0.4,0.12)(0.45,0.02)(0.6,0.1)(0.8,0.19)(0.9,0.23)(1.1,0.38)(1.3,0.58)(1.5,0.77)(1.7,0.92)(2,1)}
\ML{(0,1)(0.1,0.9)(0.25,0.38)(0.4,0.05)(0.45,0.02)(0.55,0.15)(0.7,0.29)(0.8,0.42)(0.9,0.67)(1.1,0.8)(1.3,0.87)(1.5,0.9)(1.7,0.9)(2,0.77)}
\OL{(0,1)(0.1,0.9)(0.25,0.4)(0.4,0.07)(0.45,0.03)(0.55,0.18)(0.7,0.32)(0.8,0.45)(0.9,0.7)(1.1,0.82)(1.3,0.88)(1.5,0.9)(1.7,0.92)(2,0.83)}
\nextgroupplot[H]
\BL{(0,0.15)(0.05,0.15)(0.15,0.58)(0.25,0.96)(0.3,1)(2,1)}
\ML{(0,0.1)(0.08,0.04)(0.18,0.38)(0.27,0.87)(0.35,1)(2,1)}
\OL{(0,0.12)(0.08,0.02)(0.2,0.35)(0.3,0.85)(0.38,1)(2,1)}
\nextgroupplot[H]
\BL{(0,1)(0.3,0.96)(0.6,0.78)(0.8,0.6)(1,0.44)(1.2,0.46)(1.5,0.67)(1.8,0.87)(2,0.94)}
\ML{(0,1)(0.3,0.96)(0.6,0.77)(0.8,0.55)(1,0.38)(1.3,0.23)(1.6,0.15)(1.8,0.1)(1.9,0.12)(2,0.02)}
\OL{(0,1)(0.3,0.95)(0.6,0.75)(0.8,0.52)(1,0.36)(1.3,0.22)(1.6,0.17)(1.8,0.12)(1.9,0.15)(2,0.1)}
\nextgroupplot[H]
\BL{(0,1)(0.5,1)(0.52,0.8)(0.55,0.4)(0.6,0.35)(0.7,0.19)(0.9,0.04)(1,0)(1.2,0.05)(1.4,0.15)(1.6,0.12)(1.8,0.15)(2,0.08)}
\ML{(0,0.97)(0.04,1)(2,1)}
\OL{(0,0.97)(0.04,1)(2,1)}
\nextgroupplot[R]
\RL{(0,0)(0.1,0.05)(0.3,0.1)(0.5,0.15)(0.6,0.2)(0.65,0.17)(0.7,0.23)(0.75,0.18)(0.8,0.25)(0.9,0.2)(1,0.22)(1.1,0.2)(1.2,0.42)(1.3,0.23)(1.4,0.77)(1.5,0.29)(1.6,0.81)(1.7,0.29)(1.8,0.58)(1.9,0.35)(2.07,1)}
% ===== Row 14
\nextgroupplot[H,ylabel={phoenix, seed=2}]
\BL{(0,0.95)(0.05,1)(2,1)}
\ML{(0,0.95)(0.5,0.93)(1,0.9)(1.3,0.85)(1.6,0.7)(1.8,0.5)(2,0.1)}
\OL{(0,0.92)(0.5,0.9)(1,0.88)(1.3,0.82)(1.6,0.65)(1.8,0.45)(2,0.15)}
\nextgroupplot[H]
\BL{(0,0.2)(0.05,0.1)(0.15,0.6)(0.25,0.95)(0.35,1)(2,1)}
\ML{(0,0.25)(0.1,0.05)(0.2,0.4)(0.3,0.85)(0.45,1)(2,1)}
\OL{(0,0.25)(0.1,0.05)(0.22,0.35)(0.32,0.8)(0.45,1)(2,1)}
\nextgroupplot[H]
\BL{(0,1)(0.1,0.95)(0.2,0.75)(0.35,0.28)(0.45,0.09)(0.6,0.19)(0.8,0.19)(1,0.28)(1.2,0.38)(1.4,0.53)(1.6,0.75)(1.8,0.94)(2,1)}
\ML{(0,1)(0.1,0.9)(0.2,0.57)(0.35,0.2)(0.45,0.04)(0.5,0.06)(0.6,0.38)(0.75,0.66)(0.9,0.79)(1.1,0.79)(1.3,0.75)(1.5,0.79)(1.7,0.85)(1.9,0.85)(2,0.79)}
\OL{(0,1)(0.1,0.9)(0.2,0.6)(0.35,0.25)(0.45,0.1)(0.55,0.3)(0.65,0.6)(0.75,0.75)(0.9,0.8)(1.1,0.8)(1.3,0.78)(1.5,0.8)(1.7,0.82)(1.9,0.8)(2,0.75)}
\nextgroupplot[H]
\BL{(0,0.09)(0.03,0.08)(0.1,0.57)(0.2,0.91)(0.3,1)(2,1)}
\ML{(0,0.04)(0.05,0.05)(0.1,0.13)(0.2,0.66)(0.3,0.94)(0.4,1)(2,1)}
\OL{(0,0.06)(0.05,0.04)(0.12,0.2)(0.22,0.7)(0.32,0.95)(0.42,1)(2,1)}
\nextgroupplot[H]
\BL{(0,1)(0.5,0.98)(0.9,0.91)(1.2,0.8)(1.4,0.68)(1.5,0.6)(1.6,0.6)(1.8,0.72)(2,0.81)}
\ML{(0,1)(0.5,0.98)(0.9,0.9)(1.2,0.8)(1.4,0.7)(1.6,0.58)(1.7,0.5)(1.9,0.28)(2,0.19)}
\OL{(0,1)(0.5,0.98)(0.9,0.9)(1.2,0.82)(1.4,0.72)(1.6,0.62)(1.7,0.53)(1.85,0.38)(2,0.04)}
\nextgroupplot[H]
\BL{(0,1)(0.45,0.98)(0.6,0.75)(0.7,0.55)(0.8,0.38)(0.95,0.09)(1.1,0)(1.3,0.04)(1.5,0.15)(1.7,0.28)(1.85,0.28)(2,0.19)}
\ML{(0,0.97)(0.04,1)(2,1)}
\OL{(0,0.97)(0.04,1)(2,1)}
\nextgroupplot[R]
\RL{(0,0)(0.15,0.05)(0.3,0.09)(0.5,0.13)(0.6,0.18)(0.7,0.15)(0.8,0.27)(1,0.33)(1.1,0.45)(1.2,0.4)(1.3,0.51)(1.45,0.82)(1.5,0.55)(1.55,0.64)(1.6,0.45)(1.67,0.69)(1.75,0.85)(1.8,1)(1.85,0.76)(1.92,0.27)(2,0.45)(2.07,0.55)}
% ===== Row 15
\nextgroupplot[H,ylabel={phoenix, seed=3}]
\BL{(0,0.95)(0.05,1)(2,1)}
\ML{(0,0.95)(0.5,0.92)(1,0.88)(1.5,0.8)(1.8,0.6)(1.95,0.3)(2,0.1)}
\OL{(0,0.92)(0.5,0.9)(1,0.85)(1.5,0.75)(1.8,0.5)(1.95,0.2)(2,0.05)}
\nextgroupplot[H]
\BL{(0,0.55)(0.05,0.35)(0.12,0.5)(0.2,0.85)(0.3,1)(2,1)}
\ML{(0,0.5)(0.08,0.2)(0.13,0.05)(0.2,0.3)(0.3,0.85)(0.4,1)(2,1)}
\OL{(0,0.55)(0.08,0.25)(0.14,0.1)(0.22,0.4)(0.32,0.85)(0.42,1)(2,1)}
\nextgroupplot[H]
\BL{(0,1)(0.1,0.95)(0.2,0.75)(0.35,0.38)(0.5,0.09)(0.6,0.04)(0.8,0.06)(0.95,0.19)(1.1,0.28)(1.3,0.47)(1.5,0.66)(1.7,0.91)(1.9,0.98)(2,1)}
\ML{(0,1)(0.1,0.9)(0.25,0.5)(0.4,0.12)(0.5,0.04)(0.6,0.15)(0.8,0.5)(0.95,0.72)(1.2,0.85)(1.5,0.92)(1.8,0.96)(2,0.95)}
\OL{(0,1)(0.1,0.92)(0.25,0.57)(0.4,0.19)(0.5,0.09)(0.6,0.23)(0.8,0.57)(0.95,0.75)(1.2,0.85)(1.5,0.94)(1.8,0.97)(2,0.98)}
\nextgroupplot[H]
\BL{(0,0.09)(0.05,0.47)(0.15,0.85)(0.25,0.99)(0.3,1)(2,1)}
\ML{(0,0.19)(0.05,0)(0.12,0.38)(0.2,0.85)(0.3,1)(2,1)}
\OL{(0,0.19)(0.05,0.09)(0.15,0.47)(0.25,0.91)(0.35,1)(2,1)}
\nextgroupplot[H]
\BL{(0,1)(0.5,0.94)(0.8,0.85)(1,0.79)(1.2,0.75)(1.5,0.79)(1.8,0.91)(2,0.98)}
\ML{(0,1)(0.5,0.94)(0.8,0.75)(1.1,0.6)(1.3,0.47)(1.6,0.34)(1.8,0.23)(2,0.26)}
\OL{(0,1)(0.5,0.94)(0.8,0.75)(1.1,0.57)(1.3,0.42)(1.6,0.28)(1.8,0.19)(2,0.04)}
\nextgroupplot[H]
\BL{(0,1)(0.4,0.98)(0.6,0.75)(0.8,0.38)(1,0.15)(1.2,0.04)(1.4,0.06)(1.6,0.19)(1.8,0.28)(1.9,0.32)(2,0.23)}
\ML{(0,0.97)(0.04,1)(2,1)}
\OL{(0,0.97)(0.04,1)(2,1)}
\nextgroupplot[R]
\RL{(0,0)(0.2,0.09)(0.5,0.13)(0.6,0.18)(0.7,0.15)(0.8,0.27)(0.85,0.18)(0.95,0.27)(1.1,0.45)(1.15,0.18)(1.3,0.36)(1.35,0.33)(1.5,0.73)(1.55,0.55)(1.62,0.82)(1.7,0.73)(1.8,1)(1.9,0.73)(2.07,0.36)}
% ===== Row 16
\nextgroupplot[H,ylabel={pitfall, seed=1}]
\BL{(0,0.9)(0.3,0.86)(0.6,0.7)(0.8,0.6)(1,0.54)(1.2,0.6)(1.5,0.7)(1.8,0.86)(2,1)}
\ML{(0,0.74)(0.3,0.7)(0.6,0.5)(0.9,0.4)(1.1,0.2)(1.3,0.16)(1.5,0.06)(1.6,0.2)(1.8,0.2)(2,0.5)}
\OL{(0,0.74)(0.3,0.64)(0.6,0.5)(0.9,0.36)(1.1,0.14)(1.3,0.1)(1.5,0.1)(1.65,0.2)(1.8,0.2)(2,0.46)}
\nextgroupplot[H]
\BL{(0,0.94)(0.5,0.84)(0.9,0.76)(1.1,0.84)(1.4,0.94)(2,1)}
\ML{(0,0.9)(0.5,0.64)(0.8,0.3)(0.95,0.04)(1.1,0.04)(1.3,0.2)(1.6,0.5)(2,0.86)}
\OL{(0,0.9)(0.5,0.7)(0.8,0.4)(0.95,0.26)(1.1,0.34)(1.3,0.4)(1.6,0.6)(2,0.9)}
\nextgroupplot[H]
\BL{(0,1)(0.3,0.95)(0.6,0.82)(1,0.67)(1.2,0.5)(1.3,0.4)(1.5,0.35)(1.8,0.49)(2,0.76)}
\ML{(0,1)(0.3,0.95)(0.6,0.85)(0.7,0.89)(0.8,0.8)(1,0.67)(1.2,0.45)(1.4,0.2)(1.5,0.13)(1.65,0.04)(1.8,0.22)(2,0.49)}
\OL{(0,1)(0.3,0.95)(0.6,0.86)(0.7,0.9)(0.8,0.81)(1,0.68)(1.2,0.46)(1.4,0.22)(1.5,0.15)(1.65,0.06)(1.8,0.24)(2,0.5)}
\nextgroupplot[H]
\BL{(0,0.85)(0.5,0.82)(0.8,0.76)(1.1,0.85)(1.5,0.91)(2,0.95)}
\ML{(0,0.82)(0.5,0.64)(0.8,0.4)(0.9,0.09)(1.1,0.09)(1.3,0.31)(1.6,0.58)(2,0.89)}
\OL{(0,0.82)(0.5,0.67)(0.8,0.49)(0.9,0.31)(1.1,0.35)(1.3,0.49)(1.6,0.67)(2,0.85)}
\nextgroupplot[H]
\BL{(0,1)(0.3,0.89)(0.6,0.85)(0.9,0.71)(1.1,0.58)(1.25,0.35)(1.5,0.35)(1.75,0.53)(2,0.8)}
\ML{(0,1)(0.3,0.9)(0.5,0.86)(0.55,0.9)(0.8,0.74)(1,0.55)(1.2,0.28)(1.4,0.1)(1.5,0.02)(1.7,0.15)(2,0.47)}
\OL{(0,1)(0.3,0.91)(0.5,0.87)(0.55,0.93)(0.8,0.76)(1,0.58)(1.2,0.31)(1.4,0.13)(1.5,0.04)(1.7,0.16)(2,0.49)}
\nextgroupplot[H]
\BL{(0,0.67)(0.05,0.7)(0.15,0.76)(0.4,0.8)(0.8,0.85)(1.2,0.84)(1.5,0.76)(1.7,0.65)(1.8,0.58)(1.9,0.4)(1.95,0.22)(2,0.02)}
\ML{(0,0.67)(0.3,0.82)(0.6,0.93)(1,0.96)(1.5,1)(2,0.95)}
\OL{(0,0.7)(0.3,0.84)(0.6,0.94)(1,0.97)(1.5,1)(2,0.96)}
\nextgroupplot[R]
\RL{(0,0.4)(0.06,0.22)(0.12,0.58)(0.18,0.49)(0.24,0.58)(0.28,0)(0.37,0.76)(0.41,0.95)(0.49,0.82)(0.53,0.95)(0.59,0.85)(0.63,0.22)(0.67,0.95)(0.89,0.96)(0.93,0.67)(0.98,0.96)(1.3,0.95)(1.34,0.67)(1.38,0.95)(1.5,0.95)(1.54,0.76)(1.63,0.95)(1.71,0.82)(1.79,0.96)(1.87,0.89)(1.95,0.96)(2.07,0.82)}
% ===== Row 17
\nextgroupplot[H,ylabel={pitfall, seed=2}]
\BL{(0,0.81)(0.3,0.79)(0.7,0.66)(0.9,0.62)(1.1,0.66)(1.4,0.7)(1.8,0.81)(2,0.95)}
\ML{(0,0.75)(0.3,0.7)(0.6,0.57)(0.8,0.47)(0.86,0.3)(0.88,0.52)(1,0.45)(1.3,0.38)(1.5,0.34)(1.6,0.38)(1.8,0.57)(2,0.75)}
\OL{(0,0.75)(0.3,0.68)(0.6,0.51)(0.8,0.43)(0.86,0.28)(0.88,0.5)(1,0.38)(1.2,0.23)(1.4,0.06)(1.55,0.04)(1.8,0.19)(2,0.57)}
\nextgroupplot[H]
\BL{(0,1)(0.5,0.94)(0.9,0.86)(1.1,0.9)(1.5,0.94)(2,1)}
\ML{(0,0.94)(0.5,0.86)(1,0.74)(1.3,0.7)(1.32,0.05)(1.4,0)(1.6,0.04)(1.8,0.2)(1.9,0.5)(2,0.84)}
\OL{(0,0.94)(0.5,0.86)(1,0.76)(1.3,0.72)(1.32,0.3)(1.4,0.26)(1.6,0.2)(1.8,0.36)(1.9,0.6)(2,0.86)}
\nextgroupplot[H]
\BL{(0,1)(0.3,0.93)(0.6,0.82)(0.8,0.7)(0.84,0.6)(0.86,0.72)(1,0.65)(1.2,0.58)(1.4,0.55)(1.6,0.6)(1.8,0.75)(2,0.85)}
\ML{(0,0.98)(0.3,0.9)(0.6,0.75)(0.8,0.55)(0.84,0.47)(0.86,0.6)(1,0.5)(1.2,0.38)(1.4,0.3)(1.6,0.3)(1.8,0.45)(2,0.6)}
\OL{(0,0.98)(0.3,0.88)(0.6,0.72)(0.8,0.5)(0.84,0.4)(0.86,0.55)(1,0.42)(1.2,0.25)(1.4,0.1)(1.55,0.05)(1.8,0.2)(2,0.42)}
\nextgroupplot[H]
\BL{(0,0.95)(0.5,0.98)(1,0.99)(2,1)}
\ML{(0,0.89)(0.5,0.82)(1,0.76)(1.15,0.71)(1.17,0.13)(1.4,0.04)(1.6,0.16)(1.8,0.4)(2,0.82)}
\OL{(0,0.89)(0.5,0.82)(1,0.76)(1.15,0.72)(1.17,0.31)(1.4,0.31)(1.5,0.27)(1.7,0.45)(1.85,0.67)(2,0.85)}
\nextgroupplot[H]
\BL{(0,1)(0.5,0.98)(0.9,0.95)(1,0.89)(1.2,0.71)(1.4,0.6)(1.6,0.58)(1.8,0.64)(2,0.75)}
\ML{(0,1)(0.5,0.98)(0.9,0.93)(1,0.85)(1.2,0.49)(1.4,0.22)(1.5,0.12)(1.7,0.1)(1.85,0.14)(2,0.22)}
\OL{(0,1)(0.5,0.98)(0.9,0.93)(1,0.86)(1.2,0.5)(1.4,0.25)(1.5,0.15)(1.7,0.16)(1.85,0.2)(2,0.25)}
\nextgroupplot[H]
\BL{(0,0.05)(0.2,0.1)(0.5,0.38)(0.8,0.57)(1.2,0.62)(1.5,0.66)(1.7,0.57)(1.9,0.38)(2,0.28)}
\ML{(0,0.05)(0.1,0.28)(0.3,0.55)(0.5,0.75)(0.8,0.88)(1.2,0.97)(1.6,1)(2,0.95)}
\OL{(0,0.02)(0.1,0.25)(0.3,0.52)(0.5,0.72)(0.8,0.86)(1.2,0.96)(1.6,0.99)(2,0.96)}
\nextgroupplot[R]
\RL{(0,0.6)(0.03,0.3)(0.06,0)(0.1,0.68)(0.15,0.55)(0.2,0.75)(0.25,0.68)(0.3,0.85)(0.35,0.75)(0.4,0.93)(0.5,0.85)(0.6,1)(0.8,0.93)(1,1)(1.2,0.93)(1.25,0.75)(1.3,1)(1.5,1)(1.55,0.85)(1.6,0.68)(1.65,1)(2.07,1)}
% ===== Row 18
\nextgroupplot[H,ylabel={pitfall, seed=3}]
\BL{(0,0.76)(0.3,0.74)(0.6,0.6)(0.8,0.46)(1,0.44)(1.3,0.6)(1.6,0.8)(1.8,0.84)(2,1)}
\ML{(0,0.66)(0.3,0.64)(0.6,0.44)(0.9,0.2)(1.1,0.1)(1.2,0.2)(1.35,0.12)(1.5,0.15)(1.7,0.26)(1.9,0.4)(2,0.66)}
\OL{(0,0.6)(0.3,0.6)(0.6,0.4)(0.9,0.16)(1.1,0.06)(1.2,0.16)(1.3,0.1)(1.4,0.06)(1.6,0.06)(1.8,0.16)(2,0.4)}
\nextgroupplot[H]
\BL{(0,0.66)(0.3,0.6)(0.6,0.54)(0.8,0.6)(1.1,0.76)(1.4,0.86)(1.7,0.94)(2,0.96)}
\ML{(0,0.66)(0.3,0.5)(0.6,0.24)(0.8,0)(1,0.2)(1.2,0.44)(1.4,0.6)(1.7,0.76)(2,0.9)}
\OL{(0,0.66)(0.3,0.52)(0.6,0.26)(0.8,0.08)(0.95,0.15)(1.2,0.44)(1.4,0.58)(1.7,0.74)(2,0.88)}
\nextgroupplot[H]
\BL{(0,1)(0.3,0.82)(0.6,0.64)(0.9,0.45)(1.1,0.36)(1.3,0.36)(1.5,0.49)(1.8,0.64)(2,0.73)}
\ML{(0,1)(0.3,0.82)(0.6,0.64)(0.9,0.42)(1.2,0.31)(1.4,0.24)(1.6,0.09)(1.8,0.31)(2,0.49)}
\OL{(0,1)(0.3,0.8)(0.6,0.6)(0.9,0.36)(1.2,0.24)(1.4,0.09)(1.6,0.04)(1.8,0.18)(2,0.36)}
\nextgroupplot[H]
\BL{(0,0.82)(0.3,0.73)(0.6,0.64)(0.8,0.73)(1.1,0.85)(1.4,0.95)(1.8,1)(2,1)}
\ML{(0,0.78)(0.3,0.64)(0.6,0.36)(0.8,0.05)(1,0.24)(1.2,0.49)(1.4,0.64)(1.7,0.78)(2,0.91)}
\OL{(0,0.78)(0.3,0.62)(0.6,0.33)(0.8,0.09)(1,0.24)(1.2,0.47)(1.4,0.62)(1.7,0.76)(2,0.89)}
\nextgroupplot[H]
\BL{(0,1)(0.3,0.82)(0.6,0.69)(0.9,0.55)(1.1,0.45)(1.3,0.31)(1.4,0.13)(1.6,0.36)(1.8,0.55)(2,0.67)}
\ML{(0,1)(0.3,0.8)(0.6,0.68)(0.9,0.53)(1.2,0.42)(1.4,0.27)(1.6,0.45)(1.8,0.55)(2,0.67)}
\OL{(0,1)(0.3,0.82)(0.6,0.7)(0.9,0.55)(1.2,0.42)(1.35,0.18)(1.45,0.13)(1.6,0.36)(1.8,0.55)(2,0.64)}
\nextgroupplot[H]
\BL{(0,0)(0.2,0.13)(0.5,0.36)(0.8,0.55)(1.1,0.58)(1.4,0.55)(1.7,0.36)(1.95,0.09)(2,0.02)}
\ML{(0,0.09)(0.1,0.36)(0.3,0.64)(0.6,0.82)(1,0.91)(1.5,0.96)(2,0.96)}
\OL{(0,0.05)(0.1,0.33)(0.3,0.62)(0.6,0.8)(1,0.9)(1.5,0.95)(2,0.95)}
\nextgroupplot[R]
\RL{(0,0.62)(0.03,0.3)(0.06,0)(0.1,0.81)(0.15,0.65)(0.2,0.9)(0.25,0.75)(0.3,0.96)(0.35,0.85)(0.42,0.98)(0.5,0.96)(0.8,0.98)(1,0.97)(1.3,0.98)(1.6,0.98)(1.65,0.92)(1.7,0.98)(2.07,0.98)}
\end{groupplot}
\pgfresetboundingbox
\path[use as bounding box] ([shift={(-20pt,14pt)}]G c1r1.north west) rectangle ([shift={(810pt,-983pt)}]G c1r1.north west);
\end{tikzpicture}
\end{document}
